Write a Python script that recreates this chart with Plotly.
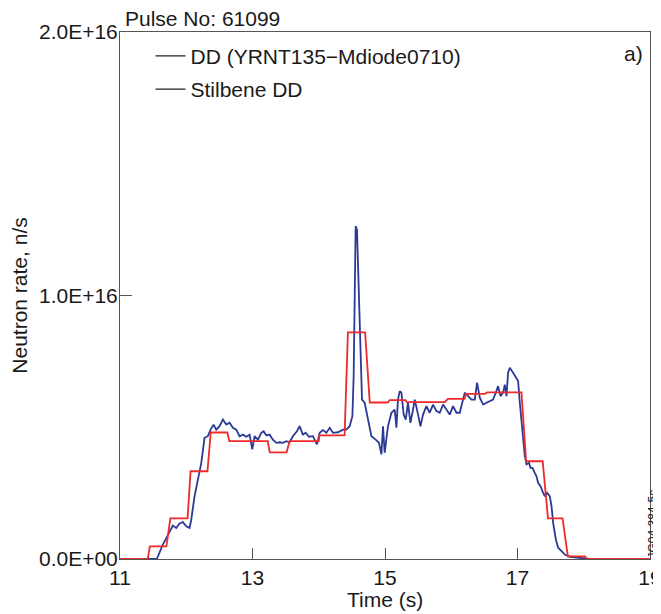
import plotly.graph_objects as go

# ---- data (neutron rate in units of 1e15 n/s) ----
dd_time = [11.0, 11.556, 11.647, 11.748, 11.798, 11.849, 11.899, 11.949, 12.0, 12.05,
           12.076, 12.125, 12.175, 12.227, 12.276, 12.326, 12.367, 12.412, 12.453, 12.503,
           12.553, 12.604, 12.654, 12.704, 12.755, 12.805, 12.855, 12.906, 12.956, 12.997,
           13.032, 13.082, 13.133, 13.168, 13.209, 13.258, 13.308, 13.36, 13.41, 13.459,
           13.511, 13.56, 13.61, 13.671, 13.711, 13.761, 13.802, 13.852, 13.912, 13.973,
           14.014, 14.063, 14.115, 14.165, 14.215, 14.29, 14.366, 14.417, 14.467, 14.508,
           14.527, 14.542, 14.557, 14.577, 14.607, 14.628, 14.653, 14.693, 14.743, 14.795,
           14.859, 14.909, 14.946, 14.97, 14.995, 15.045, 15.097, 15.147, 15.172, 15.196,
           15.222, 15.248, 15.282, 15.313, 15.347, 15.384, 15.414, 15.449, 15.499, 15.535,
           15.574, 15.625, 15.675, 15.725, 15.776, 15.826, 15.876, 15.927, 15.977, 16.027,
           16.079, 16.128, 16.169, 16.204, 16.254, 16.305, 16.355, 16.39, 16.431, 16.481,
           16.532, 16.582, 16.631, 16.672, 16.707, 16.743, 16.783, 16.808, 16.834, 16.858,
           16.884, 16.934, 16.985, 17.009, 17.035, 17.061, 17.085, 17.11, 17.136, 17.175,
           17.196, 17.226, 17.261, 17.287, 17.311, 17.347, 17.378, 17.412, 17.447, 17.488,
           17.514, 17.538, 17.579, 17.613, 17.665, 17.715, 17.79, 17.891, 17.991, 18.092]
dd_rate = [0.0, 0.0, 0.55, 1.05, 1.27, 1.18, 1.35, 1.40, 1.24, 1.18,
           1.50, 2.38, 2.95, 3.65, 4.60, 4.66, 4.91, 5.10, 4.91, 5.04,
           5.29, 5.10, 5.17, 4.98, 4.91, 4.66, 4.72, 4.64, 4.72, 4.16,
           4.66, 4.53, 4.79, 4.85, 4.69, 4.72, 4.53, 4.41, 4.43, 4.41,
           4.47, 4.43, 4.66, 4.85, 5.04, 4.72, 4.79, 4.64, 4.66, 4.35,
           4.79, 4.89, 4.79, 4.98, 4.79, 4.81, 4.91, 4.91, 5.04, 5.42,
           6.94, 10.10, 12.63, 12.50, 10.10, 7.95, 6.05, 5.93, 5.29, 4.66,
           4.53, 4.41, 3.97, 5.04, 4.03, 5.04, 5.55, 5.67, 4.98, 6.05,
           6.37, 6.31, 5.48, 5.29, 5.93, 5.17, 5.55, 6.05, 5.48, 5.04,
           5.48, 5.80, 5.55, 5.86, 5.61, 5.55, 5.86, 5.67, 5.48, 5.80,
           5.55, 5.55, 5.93, 6.31, 6.18, 6.05, 6.05, 6.69, 6.12, 5.86,
           5.93, 5.99, 6.05, 6.31, 6.56, 6.18, 6.31, 6.62, 6.18, 7.07,
           7.26, 7.07, 6.81, 6.75, 5.93, 5.23, 4.53, 3.90, 3.59, 3.65,
           3.46, 3.46, 3.27, 3.14, 2.89, 2.76, 2.57, 2.38, 2.51, 2.38,
           2.00, 1.37, 0.74, 0.43, 0.30, 0.17, 0.08, 0.05, 0.02, 0.0]

stil_time = [11.0, 11.42, 11.45, 11.70, 11.76, 12.02, 12.065, 12.32, 12.37, 12.62,
             12.65, 13.23, 13.26, 13.515, 13.56, 14.0, 14.01, 14.39, 14.44, 14.70,
             14.77, 15.04, 15.07, 15.31, 15.33, 15.90, 15.95, 16.20, 16.22, 16.51,
             16.54, 17.06, 17.13, 17.38, 17.46, 17.68, 17.76, 18.02, 18.05, 19.0]
stil_rate = [0.0, 0.0, 0.48, 0.48, 1.54, 1.54, 3.33, 3.33, 4.80, 4.80,
             4.47, 4.47, 4.05, 4.05, 4.47, 4.47, 4.69, 4.69, 8.60, 8.60,
             5.94, 5.94, 6.03, 6.03, 5.95, 5.95, 6.08, 6.08, 6.27, 6.27,
             6.32, 6.32, 3.71, 3.71, 1.54, 1.54, 0.10, 0.10, 0.0, 0.0]

x_ticks = [11, 13, 15, 17, 19]
y_ticks = [0, 1e16, 2e16]
y_ticklabels = ["0.0E+00", "1.0E+16", "2.0E+16"]
legend_names = ["DD (YRNT135\u2212Mdiode0710)", "Stilbene DD"]

SCALE = 1e15
FONT = "Arial, 'Liberation Sans', Helvetica, sans-serif"
BLUE = "#2B3A96"
RED = "#EE2A2A"
AX = "#555555"

fig = go.Figure()
fig.add_trace(go.Scatter(x=dd_time, y=[v * SCALE for v in dd_rate], mode="lines",
                         line=dict(color=BLUE, width=1.8), showlegend=False))
fig.add_trace(go.Scatter(x=stil_time, y=[v * SCALE for v in stil_rate], mode="lines",
                         line=dict(color=RED, width=1.8), showlegend=False))
# legend entries (drawn dark as in the original figure)
for i, name in enumerate(legend_names):
    fig.add_trace(go.Scatter(x=[None], y=[None], mode="lines", name=name,
                             legendgroup=f"g{i}",
                             line=dict(color="#222222", width=1.3)))

# the page body adds an 8px margin at top-left; size the figure to fill the window
fig.update_layout(
    width=653, height=606,
    margin=dict(l=112, r=11, t=24, b=54.5, autoexpand=False),
    paper_bgcolor="white", plot_bgcolor="white",
    font=dict(family=FONT, size=21, color="#1a1a1a"),
    showlegend=True,
    legend=dict(x=0.0575, y=0.993, xanchor="left", yanchor="top",
                bgcolor="rgba(0,0,0,0)", borderwidth=0,
                tracegroupgap=3, font=dict(size=21)),
    xaxis=dict(range=[11, 19], tickvals=x_ticks, ticks="inside", ticklen=11,
               tickcolor=AX, showline=True, linecolor=AX, linewidth=1,
               mirror=True, showgrid=False, zeroline=False, automargin=False,
               ticklabeloverflow="allow"),
    yaxis=dict(range=[0, 2e16], tickvals=y_ticks, ticktext=y_ticklabels,
               ticks="inside", ticklen=12, tickcolor=AX, showline=True,
               linecolor=AX, linewidth=1, mirror=True, showgrid=False,
               zeroline=False, automargin=False, ticklabeloverflow="allow",
               ticklabelstandoff=-3,
               title=dict(text="Neutron rate, n/s", standoff=6, font=dict(size=21))),
)

fig.add_annotation(text="Time (s)", xref="paper", yref="paper",
                   x=0.5, y=-0.076, xanchor="center", yanchor="middle",
                   showarrow=False, font=dict(size=21))
fig.add_annotation(text="Pulse No: 61099", xref="paper", yref="paper",
                   x=0.005, y=1.0, xanchor="left", yanchor="bottom",
                   showarrow=False, font=dict(size=21))
fig.add_annotation(text="a)", xref="paper", yref="paper",
                   x=0.991, y=0.985, xanchor="right", yanchor="top",
                   showarrow=False, font=dict(size=21))
fig.add_annotation(text="JG04.384-5c", xref="paper", yref="paper",
                   x=1.0, y=0.0, xanchor="right", yanchor="bottom",
                   xshift=11, yshift=-2, textangle=-90,
                   showarrow=False, font=dict(size=12))

fig.write_html("out.html")
